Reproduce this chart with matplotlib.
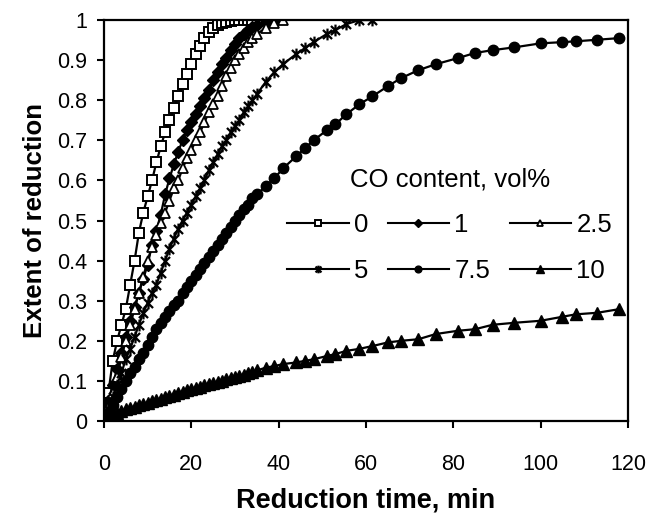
import matplotlib
matplotlib.use("Agg")
import matplotlib.pyplot as plt
from matplotlib.lines import Line2D
from matplotlib.path import Path

plt.rcParams["font.family"] = ["Liberation Sans", "DejaVu Sans"]

# sampling times (min), shared by all runs
t_dense = list(range(0, 36))
t_sparse = [37, 39, 41, 44, 46, 48, 51, 53, 55.5, 58.5, 61.5, 65, 68, 72,
            76, 81, 85, 89, 94, 100, 105, 108, 113, 118]
t_all = t_dense + t_sparse

# extent of reduction for each CO content (vol%)
co_0 = [0, 0.07, 0.15, 0.20, 0.24, 0.28, 0.34, 0.40, 0.47, 0.52, 0.56, 0.60,
        0.645, 0.685, 0.72, 0.75, 0.78, 0.81, 0.84, 0.865, 0.89, 0.915, 0.935,
        0.955, 0.97, 0.98, 0.988, 0.993, 0.996, 0.998, 1.0, 1.0, 1.0, 1.0, 1.0]
co_1 = [0, 0.05, 0.09, 0.13, 0.17, 0.21, 0.25, 0.285, 0.32, 0.355, 0.39, 0.44,
        0.475, 0.515, 0.565, 0.605, 0.64, 0.672, 0.70, 0.725, 0.745, 0.765,
        0.785, 0.805, 0.825, 0.85, 0.87, 0.89, 0.905, 0.925, 0.94, 0.955,
        0.965, 0.975, 0.982, 0.988, 0.995, 1.0]
co_2_5 = [0, 0.035, 0.07, 0.11, 0.16, 0.20, 0.24, 0.28, 0.32, 0.36, 0.40,
          0.435, 0.465, 0.495, 0.52, 0.55, 0.58, 0.60, 0.63, 0.655, 0.675,
          0.70, 0.72, 0.745, 0.77, 0.79, 0.81, 0.835, 0.86, 0.88, 0.90, 0.915,
          0.93, 0.945, 0.955, 0.965, 0.98, 0.992, 1.0]
co_5 = [0, 0.03, 0.06, 0.09, 0.12, 0.155, 0.18, 0.21, 0.24, 0.27, 0.295, 0.32,
        0.34, 0.37, 0.40, 0.43, 0.455, 0.48, 0.50, 0.52, 0.54, 0.56, 0.58,
        0.60, 0.625, 0.645, 0.665, 0.685, 0.70, 0.72, 0.735, 0.75, 0.77,
        0.785, 0.80, 0.815, 0.845, 0.87, 0.89, 0.915, 0.93, 0.945, 0.965,
        0.975, 0.99, 1.0, 1.0]
co_7_5 = [0, 0.02, 0.04, 0.06, 0.08, 0.10, 0.12, 0.135, 0.155, 0.17, 0.19,
          0.21, 0.23, 0.245, 0.26, 0.275, 0.29, 0.30, 0.32, 0.335, 0.35, 0.365,
          0.38, 0.395, 0.41, 0.425, 0.44, 0.455, 0.47, 0.485, 0.50, 0.515,
          0.53, 0.54, 0.555, 0.565, 0.585, 0.605, 0.63, 0.66, 0.68, 0.70,
          0.725, 0.74, 0.765, 0.79, 0.81, 0.835, 0.855, 0.875, 0.89, 0.905,
          0.918, 0.925, 0.932, 0.942, 0.945, 0.947, 0.951, 0.955]
co_10 = [0, 0.008, 0.015, 0.02, 0.025, 0.03, 0.033, 0.036, 0.04, 0.043, 0.046,
         0.05, 0.053, 0.056, 0.06, 0.063, 0.066, 0.07, 0.073, 0.077, 0.08,
         0.083, 0.086, 0.089, 0.092, 0.095, 0.098, 0.101, 0.104, 0.107, 0.11,
         0.113, 0.116, 0.12, 0.123, 0.126, 0.133, 0.137, 0.142, 0.146, 0.15,
         0.154, 0.162, 0.167, 0.175, 0.18, 0.187, 0.196, 0.20, 0.204, 0.217,
         0.225, 0.229, 0.24, 0.245, 0.25, 0.26, 0.266, 0.27, 0.279]

labels = ["0", "1", "2.5", "5", "7.5", "10"]
series = [co_0, co_1, co_2_5, co_5, co_7_5, co_10]

# asterisk-like "x with a bar" marker
star = Path([(-1, -1), (1, 1), (-1, 1), (1, -1), (0, -1.3), (0, 1.3)],
            [Path.MOVETO, Path.LINETO] * 3)

styles = [
    dict(marker="s", mfc="white", ms=7.5, mew=1.4),
    dict(marker="D", mfc="black", ms=6.5, mew=1.0),
    dict(marker="^", mfc="white", ms=7.5, mew=1.3),
    dict(marker=star, mfc="none", ms=8.5, mew=1.6),
    dict(marker="o", mfc="black", ms=7.5, mew=1.0),
    dict(marker="^", mfc="black", ms=8, mew=1.0),
]

fig = plt.figure(figsize=(6.5, 5.15), dpi=100)
ax = fig.add_axes([0.16, 0.1825, 0.806, 0.7785])

for y, st in zip(series, styles):
    ax.plot(t_all[:len(y)], y, color="black", lw=1.6, mec="black", **st)

ax.set_xlim(0, 120)
ax.set_ylim(0, 1)
ax.set_xticks(range(0, 121, 20))
ax.set_yticks([i / 10 for i in range(11)])
ax.set_yticklabels(["0"] + [f"{i / 10:g}" for i in range(1, 10)] + ["1"])
ax.tick_params(direction="out", length=5, width=1.5, labelsize=15.5)
ax.tick_params(axis="x", pad=19)
ax.tick_params(axis="y", pad=7)
for s in ax.spines.values():
    s.set_linewidth(1.6)

ax.set_xlabel("Reduction time, min", fontsize=19.5, fontweight="bold", labelpad=9)
ax.set_ylabel("Extent of reduction", fontsize=18.5, fontweight="bold", labelpad=7)

# legend: rows 0/1/2.5 then 5/7.5/10 (column-major fill)
handles = []
for st in styles:
    st_small = dict(st)
    st_small["ms"] = st["ms"] * 0.65
    handles.append(Line2D([], [], color="black", lw=1.5, mec="black", **st_small))
order = [0, 3, 1, 4, 2, 5]
ax.legend([handles[i] for i in order], [labels[i] for i in order],
          ncol=3, frameon=False, title="CO content, vol%",
          title_fontsize=18.5, fontsize=18.5, handlelength=2.4, handletextpad=0.2,
          columnspacing=0.75, labelspacing=0.85, borderpad=0,
          loc="upper left", bbox_to_anchor=(0.325, 0.665))

fig.savefig("out.png", dpi=100)
